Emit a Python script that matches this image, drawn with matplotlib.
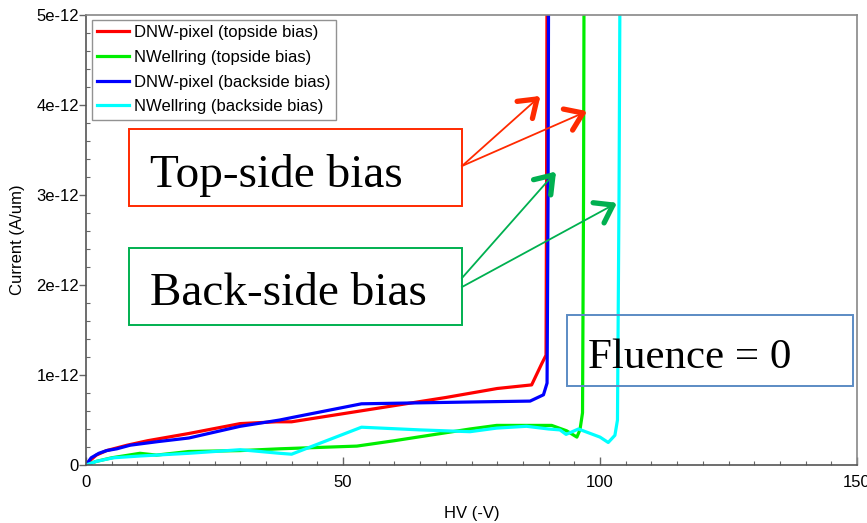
import numpy as np
import matplotlib
matplotlib.use("Agg")
import matplotlib.pyplot as plt
from matplotlib.patches import Rectangle
from matplotlib.lines import Line2D
from matplotlib.ticker import MultipleLocator, FuncFormatter

plt.rcParams['font.family'] = ['Liberation Sans', 'DejaVu Sans']

# I-V curves, current in units of 1e-12 A/um
red_v = [0, 0.8, 2, 4, 8, 12, 20, 30, 37, 40, 50, 60, 70, 75, 80, 86.7, 88.7, 89.5, 89.6, 89.7]
red_i = [0, 0.05, 0.11, 0.16, 0.22, 0.27, 0.35, 0.46, 0.48, 0.48, 0.57, 0.66, 0.75, 0.80, 0.85, 0.89, 1.13, 1.22, 3.0, 5.5]

green_v = [0, 2, 5, 10.5, 13.7, 20, 30, 37.7, 52.7, 60, 74.7, 79.9, 90.6, 93.5, 95.5, 96.1, 96.6, 96.8, 96.9]
green_i = [0, 0.04, 0.08, 0.13, 0.11, 0.15, 0.16, 0.18, 0.21, 0.27, 0.40, 0.44, 0.44, 0.38, 0.31, 0.39, 0.58, 3.0, 5.5]

blue_v = [0, 1, 2.5, 4, 6, 8.6, 14, 20, 30, 37.7, 40.3, 53.6, 74.7, 86.4, 89, 89.7, 89.9, 90]
blue_i = [0, 0.08, 0.13, 0.16, 0.18, 0.22, 0.26, 0.30, 0.43, 0.50, 0.53, 0.68, 0.70, 0.71, 0.78, 0.91, 3.0, 5.5]

cyan_v = [0, 2, 5.3, 10.5, 20, 30, 37.7, 40, 53.6, 65, 74.7, 79.9, 85.7, 90, 92.2, 93.4, 95.8, 100, 101.6, 102.9, 103.4, 103.7, 103.9]
cyan_i = [0, 0.04, 0.08, 0.10, 0.13, 0.17, 0.13, 0.12, 0.42, 0.39, 0.37, 0.41, 0.43, 0.40, 0.39, 0.34, 0.40, 0.31, 0.25, 0.33, 0.50, 3.0, 5.5]

series = [
    ("DNW-pixel (topside bias)", red_v, red_i, "#ff0000"),
    ("NWellring (topside bias)", green_v, green_i, "#00ee00"),
    ("DNW-pixel (backside bias)", blue_v, blue_i, "#0000ff"),
    ("NWellring (backside bias)", cyan_v, cyan_i, "#00ffff"),
]

W, H = 867, 523
fig = plt.figure(figsize=(W / 100, H / 100), dpi=100)
ax = fig.add_axes([86 / W, 1 - 465 / H, (857 - 86) / W, (465 - 15) / H])

for label, v, i, c in series:
    ax.plot(v, i, color=c, lw=2.3, label=label, solid_joinstyle='round')

ax.set_xlim(0, 150)
ax.set_ylim(0, 5)
ax.xaxis.set_major_locator(MultipleLocator(50))
ax.xaxis.set_minor_locator(MultipleLocator(5))
ax.yaxis.set_major_locator(MultipleLocator(1))
ax.yaxis.set_minor_locator(MultipleLocator(0.2))
ax.yaxis.set_major_formatter(FuncFormatter(lambda y, p: "0" if y == 0 else f"{y:g}e-12"))
ax.xaxis.set_major_formatter(FuncFormatter(lambda x, p: f"{x:g}"))

ax.tick_params(axis='x', which='major', direction='in', length=6, width=1, color='#666666',
               labelsize=12, pad=7)
ax.tick_params(axis='x', which='minor', direction='in', length=3, width=0.8, color='#666666')
ax.tick_params(axis='y', which='major', direction='out', length=5, width=1, color='#666666',
               labelsize=12, pad=0)
ax.tick_params(axis='y', which='minor', direction='in', length=3, width=0.8, color='#666666')

for s in ['left', 'bottom']:
    ax.spines[s].set_color('#555555')
    ax.spines[s].set_linewidth(1.2)
for s in ['top', 'right']:
    ax.spines[s].set_color('#888888')
    ax.spines[s].set_linewidth(1.2)

ax.set_xlabel("HV (-V)", fontsize=12, labelpad=12)
ax.set_ylabel("Current (A/um)", fontsize=12, labelpad=8)

leg = ax.legend(loc='upper left', bbox_to_anchor=(92 / W, 1 - 20 / H),
                bbox_transform=fig.transFigure, borderaxespad=0,
                fontsize=12, frameon=True, fancybox=False, handlelength=1.9,
                handletextpad=0.3, labelspacing=0.58, borderpad=0.32)
leg.get_frame().set_edgecolor('#777777')
leg.get_frame().set_linewidth(1.0)
for ln in leg.get_lines():
    ln.set_linewidth(2.3)


def fx(px):
    return px / W


def fy(py):
    return 1 - py / H


def box(x0, y0, x1, y1, color):
    fig.add_artist(Rectangle((fx(x0), fy(y1)), fx(x1) - fx(x0), fy(y0) - fy(y1),
                             transform=fig.transFigure, fill=False, edgecolor=color, lw=1.4))


def arrow(x0, y0, x1, y1, color):
    fig.add_artist(Line2D([fx(x0), fx(x1)], [fy(y0), fy(y1)], transform=fig.transFigure,
                          color=color, lw=1.3))
    d = np.array([x1 - x0, y1 - y0], dtype=float)
    d /= np.hypot(*d)
    for ang in (np.radians(35), -np.radians(35)):
        r = np.array([[np.cos(ang), -np.sin(ang)], [np.sin(ang), np.cos(ang)]])
        b = np.array([x1, y1]) - 20 * (r @ d)
        fig.add_artist(Line2D([fx(b[0]), fx(x1)], [fy(b[1]), fy(y1)], transform=fig.transFigure,
                              color=color, lw=3.8, solid_capstyle='round'))


red_c = "#ff2a00"
green_c = "#00b050"
blue_c = "#5b8bc4"

box(129, 129, 462, 206, red_c)
fig.text(fx(150), fy(187), "Top-side bias", fontsize=34, family='Liberation Serif', va='baseline')
box(129, 248, 462, 325, green_c)
fig.text(fx(150), fy(305), "Back-side bias", fontsize=34, family='Liberation Serif', va='baseline')
box(567, 315, 853, 386, blue_c)
fig.text(fx(588), fy(368), "Fluence = 0", fontsize=31, family='Liberation Serif', va='baseline')

arrow(462, 166, 537, 99, red_c)
arrow(462, 166, 583, 113, red_c)
arrow(462, 278, 553, 175, green_c)
arrow(462, 287, 613, 205, green_c)

fig.savefig("out.png", dpi=100)
